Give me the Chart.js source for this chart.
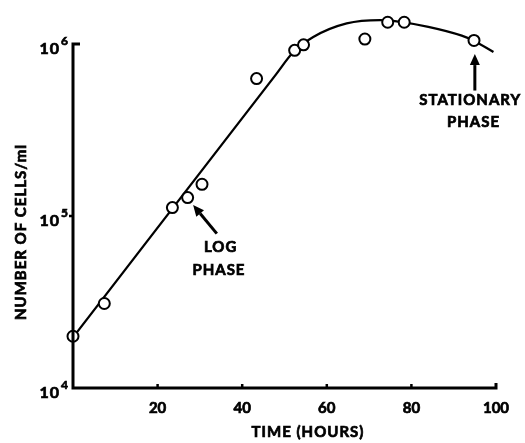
<!DOCTYPE html>
<html>
<head>
<meta charset="utf-8">
<script src="https://cdn.jsdelivr.net/npm/chart.js@4"></script>
<style>
  body { margin: 0; background: #fff; }
  #wrap { width: 525px; height: 443px; }
</style>
</head>
<body>
<div id="wrap"><canvas id="growth" width="525" height="443"></canvas></div>
<script>
/* datos medidos: tiempo (horas) y celulas/ml */
const hours = [0, 7.4, 23.5, 27.1, 30.5, 43.4, 52.4, 54.5, 69.0, 74.4, 78.3, 94.8];
const cells = [2.0e4, 3.1e4, 1.12e5, 1.28e5, 1.53e5, 6.3e5, 9.2e5, 9.9e5, 1.07e6, 1.34e6, 1.34e6, 1.05e6];

/* curva ajustada dibujada a mano */
const fitHours = [0, 48, 52, 56.8, 64.7, 72.6, 76.1, 84.0, 91.9, 94.6, 99.4];
const fitCells = [1.97e4, 6.67e5, 8.93e5, 1.10e6, 1.32e6, 1.38e6, 1.36e6, 1.26e6, 1.12e6, 1.05e6, 9.0e5];

const xTickValues = [20, 40, 60, 80, 100];
const yTickValues = [1e4, 1e5, 1e6];

const FONT = "Lato, 'Open Sans', sans-serif";

function arrow(ctx, x1, y1, x2, y2) {
  const ang = Math.atan2(y2 - y1, x2 - x1);
  const head = 11, half = 5;
  const bx = x2 - head * Math.cos(ang), by = y2 - head * Math.sin(ang);
  ctx.beginPath();
  ctx.moveTo(x1, y1);
  ctx.lineTo(bx, by);
  ctx.lineWidth = 3;
  ctx.stroke();
  ctx.beginPath();
  ctx.moveTo(x2, y2);
  ctx.lineTo(bx + half * Math.sin(ang), by - half * Math.cos(ang));
  ctx.lineTo(bx - half * Math.sin(ang), by + half * Math.cos(ang));
  ctx.closePath();
  ctx.fill();
}

// texto grueso: relleno + trazo fino
function boldText(ctx, txt, x, y) {
  ctx.lineWidth = 0.7;
  ctx.strokeText(txt, x, y);
  ctx.fillText(txt, x, y);
}

/* ejes, etiquetas y anotaciones */
const paperAxes = {
  id: "paperAxes",
  afterDraw(chart) {
    const ctx = chart.ctx;
    const xs = chart.scales.x, ys = chart.scales.y;
    const left = xs.getPixelForValue(0), right = xs.getPixelForValue(100);
    const bottom = ys.getPixelForValue(1e4), top = ys.getPixelForValue(1e6);
    ctx.save();
    ctx.strokeStyle = "#000";
    ctx.fillStyle = "#000";
    ctx.lineCap = "butt";

    // eje y y eje x
    ctx.lineWidth = 3;
    ctx.beginPath();
    ctx.moveTo(left + 7, top);
    ctx.lineTo(left, top);
    ctx.lineTo(left, bottom);
    ctx.lineTo(right, bottom);
    ctx.lineTo(right, bottom - 5);
    ctx.stroke();

    // marcas
    ctx.lineWidth = 2.5;
    ctx.beginPath();
    const y5 = ys.getPixelForValue(1e5);
    ctx.moveTo(left - 4, y5);
    ctx.lineTo(left, y5);
    xTickValues.slice(0, -1).forEach(v => {
      const px = xs.getPixelForValue(v);
      ctx.moveTo(px, bottom);
      ctx.lineTo(px, bottom - 4);
    });
    ctx.stroke();

    // etiquetas 10^n
    yTickValues.forEach(v => {
      const py = ys.getPixelForValue(v);
      const exp = String(Math.round(Math.log10(v)));
      ctx.textBaseline = "alphabetic";
      ctx.textAlign = "right";
      ctx.font = "bold 12px " + FONT;
      const ew = ctx.measureText(exp).width;
      boldText(ctx, exp, left - 5, py + 1);
      ctx.font = "bold 16px " + FONT;
      ctx.letterSpacing = "1px";
      boldText(ctx, "10", left - 6 - ew, py + 10);
      ctx.letterSpacing = "0px";
    });

    // titulos de ejes
    ctx.textAlign = "center";
    ctx.textBaseline = "middle";
    ctx.font = "bold 15px " + FONT;
    ctx.letterSpacing = "1px";
    boldText(ctx, "TIME (HOURS)", 308, 432);
    ctx.save();
    ctx.translate(21, 232);
    ctx.rotate(-Math.PI / 2);
    boldText(ctx, "NUMBER OF CELLS/ml", 0, 0);
    ctx.restore();

    // anotaciones
    ctx.font = "bold 15px " + FONT;
    boldText(ctx, "LOG", xs.getPixelForValue(34.9), ys.getPixelForValue(6.56e4));
    boldText(ctx, "PHASE", xs.getPixelForValue(34.5), ys.getPixelForValue(4.82e4));
    boldText(ctx, "STATIONARY", xs.getPixelForValue(93.9), ys.getPixelForValue(4.7e5));
    boldText(ctx, "PHASE", xs.getPixelForValue(94.7), ys.getPixelForValue(3.52e5));
    ctx.letterSpacing = "0px";

    arrow(ctx, xs.getPixelForValue(34.0), ys.getPixelForValue(7.9e4),
               xs.getPixelForValue(28.4), ys.getPixelForValue(1.16e5));
    arrow(ctx, xs.getPixelForValue(95.0), ys.getPixelForValue(5.37e5),
               xs.getPixelForValue(95.0), ys.getPixelForValue(8.75e5));
    ctx.restore();
  }
};

const ctx = document.getElementById("growth").getContext("2d");
const growth = new Chart(ctx, {
  type: "scatter",
  data: {
    datasets: [
      {
        label: "Celulas/ml",
        data: hours.map((h, i) => ({ x: h, y: cells[i] })),
        pointRadius: 5.5,
        pointHoverRadius: 5.5,
        pointBackgroundColor: "#fff",
        pointBorderColor: "#000",
        pointBorderWidth: 2,
        showLine: false,
        clip: false,
      },
      {
        label: "Ajuste",
        data: fitHours.map((h, i) => ({ x: h, y: fitCells[i] })),
        showLine: true,
        borderColor: "#000",
        borderWidth: 2.3,
        pointRadius: 0,
        cubicInterpolationMode: "monotone",
        clip: false,
      },
    ],
  },
  options: {
    responsive: false,
    animation: false,
    events: [],
    layout: { padding: { top: 9, right: 29, left: 0, bottom: 0 } },
    plugins: {
      legend: { display: false },
      tooltip: { enabled: false },
    },
    scales: {
      x: {
        type: "linear",
        min: 0,
        max: 100,
        grid: { display: false },
        border: { display: false },
        afterBuildTicks: s => { s.ticks = xTickValues.map(v => ({ value: v })); },
        afterFit: s => { s.height = 55; },
        ticks: {
          color: "#000",
          padding: 3,
          maxRotation: 0,
          textStrokeColor: "#000",
          textStrokeWidth: 0.7,
          font: { family: FONT, size: 15, weight: "bold" },
        },
      },
      y: {
        type: "logarithmic",
        min: 1e4,
        max: 1.6e6,
        bounds: "data",
        grid: { display: false },
        border: { display: false },
        afterBuildTicks: s => { s.ticks = yTickValues.map(v => ({ value: v })); },
        afterFit: s => { s.width = 73; },
        ticks: { display: false },
      },
    },
  },
  plugins: [paperAxes],
});
</script>
</body>
</html>
